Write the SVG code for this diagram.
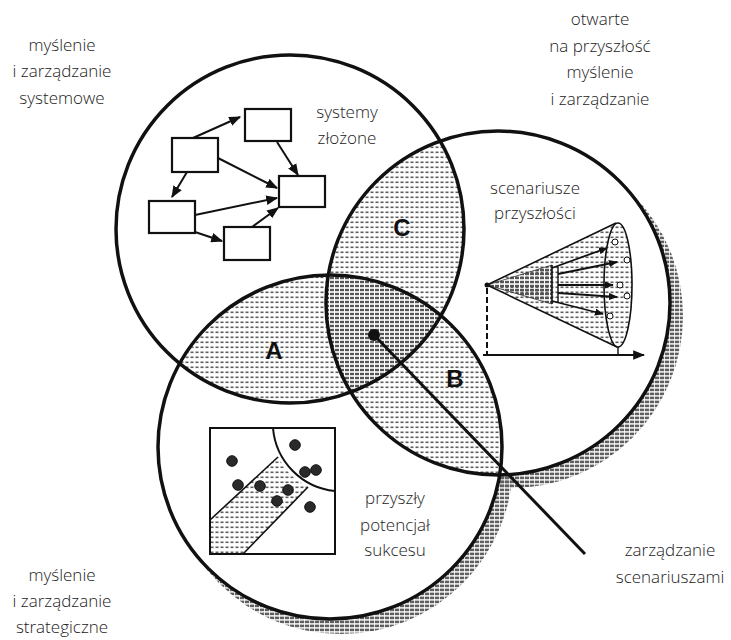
<svg xmlns="http://www.w3.org/2000/svg" width="731" height="640" viewBox="0 0 731 640">
<style>
.lbl{font-family:"Open Sans","Noto Sans",sans-serif;font-size:17px;font-weight:300;fill:#222;text-anchor:middle}
.big{font-family:"Liberation Sans",Arial,sans-serif;font-size:24px;font-weight:bold;fill:#111;text-anchor:middle}
.ring{fill:none;stroke:#111;stroke-width:3.5}
.box{fill:#fff;stroke:#111;stroke-width:2.2}
.con{fill:none;stroke:#111;stroke-width:2}
.thin{fill:none;stroke:#111;stroke-width:1.4}
</style>
<defs>
<pattern id="lt" width="5" height="5" patternUnits="userSpaceOnUse"><rect x="0.5" y="1.5" width="3" height="1.6" fill="#5e5e5e"/></pattern>
<pattern id="dk" width="5" height="4" patternUnits="userSpaceOnUse"><rect x="0" y="0.8" width="4" height="2.4" fill="#555"/></pattern>
<pattern id="sh" width="5" height="4" patternUnits="userSpaceOnUse"><rect x="0" y="0.6" width="4.2" height="2.6" fill="#5f5f5f"/></pattern>
<clipPath id="c1"><circle cx="290" cy="229" r="174"/></clipPath>
<clipPath id="c2"><circle cx="498" cy="303" r="172"/></clipPath>
<clipPath id="c3"><circle cx="330" cy="447" r="172"/></clipPath>
<marker id="ah" viewBox="0 0 10 8" refX="9" refY="4" markerWidth="6" markerHeight="5" orient="auto" markerUnits="strokeWidth"><path d="M0,0 L10,4 L0,8 Z" fill="#111"/></marker>
<marker id="ahs" viewBox="0 0 10 8" refX="9" refY="4" markerWidth="5" markerHeight="4" orient="auto" markerUnits="strokeWidth"><path d="M0,0 L10,4 L0,8 Z" fill="#111"/></marker>
</defs>
<rect width="731" height="640" fill="#fff"/>

<!-- shadows -->
<g id="shadows">
<circle cx="511" cy="316" r="172" fill="url(#sh)"/>
<circle cx="341" cy="462" r="172" fill="url(#sh)"/>
</g>

<!-- white fills -->
<g id="fills" fill="#fff">
<circle cx="290" cy="229" r="174"/>
<circle cx="498" cy="303" r="172"/>
<circle cx="330" cy="447" r="172"/>
</g>

<!-- overlaps -->
<g id="overlaps">
<g clip-path="url(#c3)"><circle cx="290" cy="229" r="174" fill="url(#lt)"/></g>
<g clip-path="url(#c3)"><circle cx="498" cy="303" r="172" fill="url(#lt)"/></g>
<g clip-path="url(#c2)"><circle cx="290" cy="229" r="174" fill="url(#lt)"/></g>
<g clip-path="url(#c3)"><g clip-path="url(#c2)"><circle cx="290" cy="229" r="174" fill="#fff"/><circle cx="290" cy="229" r="174" fill="url(#dk)"/></g></g>
</g>

<!-- systems content -->
<g id="box1"><rect class="box" x="245" y="109" width="46" height="32"/></g>
<g id="box2"><rect class="box" x="172" y="138" width="46" height="34"/></g>
<g id="box3"><rect class="box" x="279" y="176" width="46" height="31"/></g>
<g id="box4"><rect class="box" x="149" y="201" width="46" height="32"/></g>
<g id="box5"><rect class="box" x="224" y="227" width="46" height="33"/></g>
<g id="connectors">
<line class="con" x1="193" y1="138" x2="240" y2="117" marker-end="url(#ah)"/>
<line class="con" x1="277" y1="142" x2="298" y2="175" marker-end="url(#ah)"/>
<line class="con" x1="218" y1="158" x2="277" y2="188" marker-end="url(#ah)"/>
<line class="con" x1="187" y1="172" x2="172" y2="197" marker-end="url(#ah)"/>
<line class="con" x1="195" y1="215" x2="277" y2="198" marker-end="url(#ah)"/>
<line class="con" x1="195" y1="232" x2="222" y2="241" marker-end="url(#ah)"/>
<line class="con" x1="252" y1="227" x2="278" y2="208" marker-end="url(#ah)"/>
<line x1="374" y1="335" x2="585" y2="554" stroke="#111" stroke-width="3"/>
</g>

<!-- scenario cone -->
<g id="cone">
<path d="M487,285 L618,223 A14,62 0 0 1 618,347 Z" fill="url(#lt)"/>
<path d="M487,285 L552,265 L552,304 Z" fill="url(#dk)" stroke="#333" stroke-width="0.8"/>
<line class="thin" x1="552" y1="265" x2="552" y2="304"/>
<line class="thin" x1="558" y1="267" x2="558" y2="302"/>
<line x1="487" y1="285" x2="616" y2="223" stroke="#111" stroke-width="1.6"/>
<line x1="487" y1="285" x2="617" y2="347" stroke="#111" stroke-width="1.6"/>
<ellipse cx="618" cy="285" rx="14" ry="62" fill="none" stroke="#111" stroke-width="1.6"/>
<g stroke="#111" stroke-width="1.8">
<line x1="552" y1="268" x2="607" y2="248" marker-end="url(#ahs)"/>
<line x1="558" y1="274" x2="617" y2="262" marker-end="url(#ahs)"/>
<line x1="558" y1="285" x2="613" y2="285" marker-end="url(#ahs)"/>
<line x1="558" y1="293" x2="617" y2="297" marker-end="url(#ahs)"/>
<line x1="552" y1="301" x2="603" y2="314" marker-end="url(#ahs)"/>
</g>
<g fill="#fff" stroke="#111" stroke-width="1">
<circle cx="615" cy="242" r="3"/><circle cx="627" cy="260" r="3"/><circle cx="620" cy="285" r="3"/><circle cx="627" cy="296" r="3"/><circle cx="610" cy="316" r="3"/>
</g>
<circle cx="487" cy="285" r="2.5" fill="#111"/>
<line x1="487" y1="288" x2="487" y2="355" stroke="#111" stroke-width="2" stroke-dasharray="6 3"/>
<line x1="618" y1="347" x2="618" y2="355" stroke="#111" stroke-width="1.4"/>
<line x1="483" y1="355" x2="644" y2="355" stroke="#111" stroke-width="2" marker-end="url(#ah)"/>
</g>

<!-- strategic scatter -->
<g id="scatter">
<path d="M210,520 L278,457 A69,69 0 0 0 308,487 L243,554 L210,554 Z" fill="url(#lt)"/>
<rect x="210" y="428" width="125" height="126" fill="none" stroke="#111" stroke-width="2"/>
<path d="M273,428 A69,69 0 0 0 335,491" class="con" stroke-width="1.6"/>
<line x1="210" y1="520" x2="278" y2="457" stroke="#111" stroke-width="1.6"/>
<line x1="243" y1="554" x2="308" y2="487" stroke="#111" stroke-width="1.6"/>
<g fill="#2a2a2a" stroke="#111" stroke-width="1">
<circle cx="232" cy="461" r="5.3"/><circle cx="295" cy="445" r="5.3"/><circle cx="305" cy="472" r="5.3"/><circle cx="316" cy="470" r="5.3"/><circle cx="238" cy="485" r="5.3"/><circle cx="260" cy="486" r="5.3"/><circle cx="288" cy="490" r="5.3"/><circle cx="277" cy="501" r="5.3"/><circle cx="310" cy="507" r="5.3"/>
</g>
</g>

<!-- circles -->
<g id="circle-systemy"><circle class="ring" cx="290" cy="229" r="174"/></g>
<g id="circle-scenariusze"><circle class="ring" cx="498" cy="303" r="172"/></g>
<g id="circle-potencjal"><circle class="ring" cx="330" cy="447" r="172"/></g>
<g id="hub"><circle cx="374" cy="335" r="6" fill="#111"/></g>

<!-- letters -->
<g id="regionA"><text class="big" x="274" y="359">A</text></g>
<g id="regionB"><text class="big" x="455" y="387">B</text></g>
<g id="regionC"><text class="big" x="402" y="236">C</text></g>

<!-- labels -->
<g id="lbl-systemowe" class="lbl"><text x="62" y="51">myślenie</text><text x="62" y="77">i zarządzanie</text><text x="62" y="104">systemowe</text></g>
<g id="lbl-otwarte" class="lbl"><text x="600" y="25">otwarte</text><text x="600" y="52">na przyszłość</text><text x="600" y="78">myślenie</text><text x="600" y="105">i zarządzanie</text></g>
<g id="lbl-systemy" class="lbl"><text x="347" y="118">systemy</text><text x="347" y="144">złożone</text></g>
<g id="lbl-scenariusze" class="lbl"><text x="535" y="194">scenariusze</text><text x="535" y="219">przyszłości</text></g>
<g id="lbl-potencjal" class="lbl"><text x="395" y="504">przyszły</text><text x="395" y="531">potencjał</text><text x="395" y="556">sukcesu</text></g>
<g id="lbl-strategiczne" class="lbl"><text x="62" y="581">myślenie</text><text x="62" y="607">i zarządzanie</text><text x="62" y="633">strategiczne</text></g>
<g id="lbl-scenariuszami" class="lbl"><text x="670" y="556">zarządzanie</text><text x="670" y="583">scenariuszami</text></g>
</svg>
